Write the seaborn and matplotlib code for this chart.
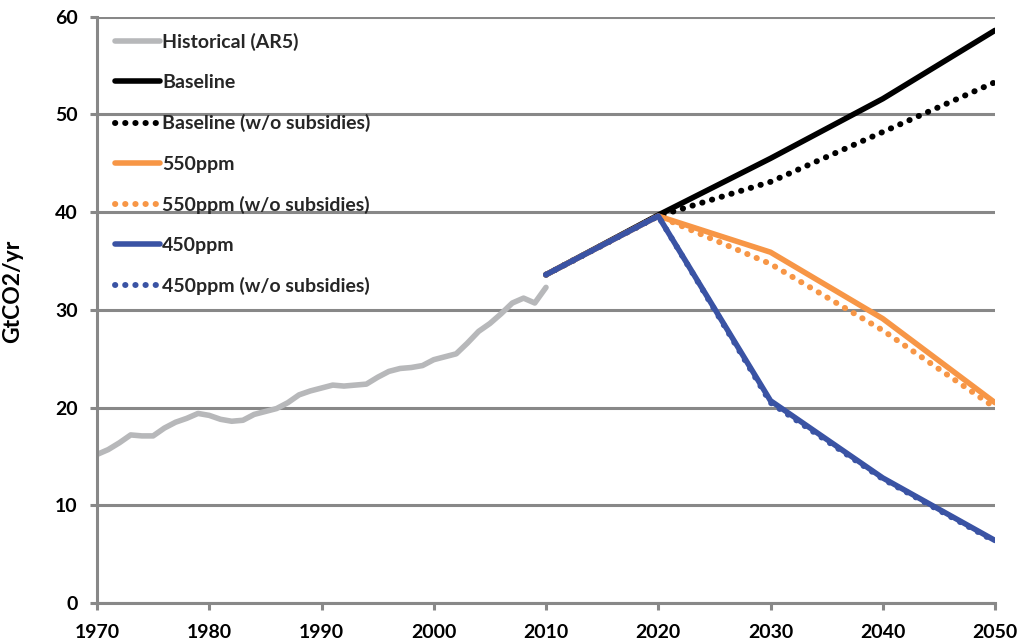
import matplotlib
matplotlib.use("Agg")
import matplotlib.pyplot as plt
import seaborn as sns
import pandas as pd

# Historical CO2 emissions (AR5), GtCO2/yr
hist_years = list(range(1970, 2011))
hist_values = [15.2, 15.7, 16.4, 17.2, 17.1, 17.1, 17.9, 18.5, 18.9, 19.4,
               19.2, 18.8, 18.6, 18.7, 19.3, 19.6, 19.9, 20.5, 21.3, 21.7,
               22.0, 22.3, 22.2, 22.3, 22.4, 23.1, 23.7, 24.0, 24.1, 24.3,
               24.9, 25.2, 25.5, 26.6, 27.8, 28.6, 29.6, 30.7, 31.2, 30.7,
               32.3]

# Scenario projections
scen_years = [2010, 2020, 2030, 2040, 2050]
baseline = [33.6, 39.7, 45.5, 51.6, 58.6]
baseline_wo = [33.6, 39.6, 43.1, 48.2, 53.3]
ppm550 = [33.6, 39.6, 35.9, 29.1, 20.5]
ppm550_wo = [33.6, 39.6, 34.7, 27.9, 20.0]
ppm450 = [33.6, 39.6, 20.7, 12.8, 6.4]
ppm450_wo = [33.6, 39.6, 20.5, 12.7, 6.3]

x_ticks = list(range(1970, 2051, 10))
y_ticks = list(range(0, 61, 10))

GREY = "#B7B8BA"
BLACK = "#000000"
ORANGE = "#F79646"
BLUE = "#3A53A4"
AXIS_GREY = "#888888"

sns.set_theme(style="white")
plt.rcParams["font.family"] = ["Lato", "DejaVu Sans"]
plt.rcParams["font.weight"] = "bold"

fig = plt.figure(figsize=(10.32, 6.42), dpi=100)
ax = fig.add_axes([97 / 1032, 1 - 603 / 642, 898 / 1032, (603 - 16.7) / 642])

solid = dict(linewidth=4.0, solid_capstyle="round", solid_joinstyle="round")
dotted = dict(linewidth=4.3, linestyle=(0, (0.05, 1.65)), dash_capstyle="round")

series = [
    ("Historical (AR5)", hist_years, hist_values, GREY, solid),
    ("Baseline", scen_years, baseline, BLACK, solid),
    ("Baseline (w/o subsidies)", scen_years, baseline_wo, BLACK, dotted),
    ("550ppm", scen_years, ppm550, ORANGE, solid),
    ("550ppm (w/o subsidies)", scen_years, ppm550_wo, ORANGE, dotted),
    ("450ppm", scen_years, ppm450, BLUE, solid),
    ("450ppm (w/o subsidies)", scen_years, ppm450_wo, BLUE, dotted),
]

for label, xs, ys, color, style in series:
    df = pd.DataFrame({"year": xs, "value": ys})
    sns.lineplot(data=df, x="year", y="value", ax=ax, color=color,
                 label=label, **style)

ax.set_xlim(1970, 2050)
ax.set_ylim(0, 60)
ax.set_xticks(x_ticks)
ax.set_yticks(y_ticks)
ax.set_xticklabels([str(t) for t in x_ticks], fontsize=14, fontweight="bold")
ax.set_yticklabels([str(t) for t in y_ticks], fontsize=14, fontweight="bold")
ax.set_xlabel("")
ax.set_ylabel("GtCO2/yr", fontsize=16.5, fontweight="bold", color="black")
ax.yaxis.set_label_coords(-0.082, 0.532)

ax.set_axisbelow(True)
ax.yaxis.grid(True, color=AXIS_GREY, linewidth=2.2)
ax.xaxis.grid(False)
for side in ("top", "right"):
    ax.spines[side].set_visible(False)
for side in ("left", "bottom"):
    ax.spines[side].set_color(AXIS_GREY)
    ax.spines[side].set_linewidth(2.2)
ax.tick_params(axis="both", which="major", length=5, width=2.2,
               color=AXIS_GREY, labelcolor="black", direction="out")
ax.tick_params(axis="y", pad=9, left=True)
ax.tick_params(axis="x", pad=10, bottom=True)

leg = ax.legend(loc="upper left", bbox_to_anchor=(115 / 1032, 1 - 33 / 642),
                bbox_transform=fig.transFigure, frameon=False, fontsize=14,
                handlelength=2.3, handletextpad=0.12, labelspacing=1.19,
                borderpad=0, borderaxespad=0)
for txt in leg.get_texts():
    txt.set_fontweight("bold")

fig.savefig("out.png", dpi=100, facecolor="white")
